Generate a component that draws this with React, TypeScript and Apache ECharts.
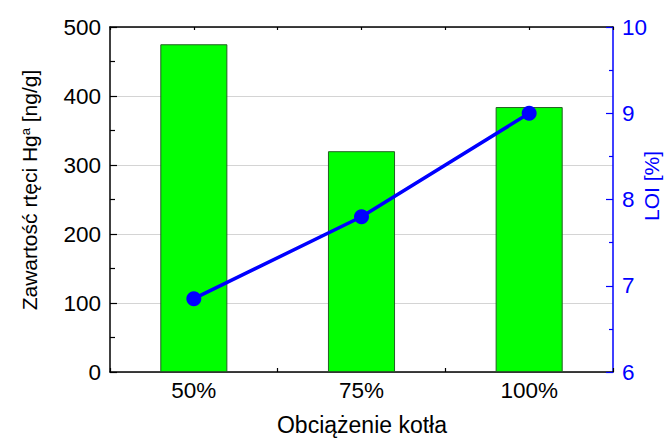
import React, { useEffect, useRef } from "react";
import * as echarts from "echarts";

const categories = ["50%", "75%", "100%"];
const mercuryValues = [475, 320, 384];
const loiValues = [6.85, 7.8, 9.0];

const FONT = "'Liberation Sans', Arial, sans-serif";

export default function App() {
  const ref = useRef<HTMLDivElement>(null);

  useEffect(() => {
    if (!ref.current) return;
    const chart = echarts.init(ref.current, null, { renderer: "svg" });
    const black = "#000000";
    const blue = "#0000ff";
    const option: any = {
      animation: false,
      backgroundColor: "#ffffff",
      textStyle: { fontFamily: FONT },
      grid: { left: 110, right: 52, top: 27, bottom: 67 },
      xAxis: [
        {
          type: "category",
          data: categories,
          position: "bottom",
          axisLine: { show: true, lineStyle: { color: black, width: 1.5 } },
          axisTick: { show: true, inside: true, alignWithLabel: true, length: 6, lineStyle: { color: black, width: 1.2 } },
          axisLabel: { show: true, fontSize: 22.5, color: black, margin: 7, fontFamily: FONT },
          splitLine: { show: false },
        },
        {
          type: "category",
          data: categories,
          position: "bottom",
          axisLine: { show: false },
          axisTick: { show: true, inside: true, alignWithLabel: false, length: 4, lineStyle: { color: black, width: 1.2 } },
          axisLabel: { show: false },
          splitLine: { show: false },
        },
        {
          type: "category",
          data: categories,
          position: "top",
          axisLine: { show: true, lineStyle: { color: black, width: 1.5 } },
          axisTick: { show: true, inside: true, alignWithLabel: true, length: 3, lineStyle: { color: black, width: 1.2 } },
          axisLabel: { show: false },
          splitLine: { show: false },
        },
        {
          type: "category",
          data: categories,
          position: "top",
          axisLine: { show: false },
          axisTick: { show: true, inside: true, alignWithLabel: false, length: 3, lineStyle: { color: black, width: 1.2 } },
          axisLabel: { show: false },
          splitLine: { show: false },
        },
      ],
      yAxis: [
        {
          type: "value",
          min: 0,
          max: 500,
          interval: 100,
          position: "left",
          axisLine: { show: true, lineStyle: { color: black, width: 1.5 } },
          axisTick: { show: true, inside: true, length: 7, lineStyle: { color: black, width: 1.2 } },
          minorTick: { show: true, splitNumber: 2, length: 5, lineStyle: { color: black, width: 1.2 } },
          axisLabel: { fontSize: 22.5, color: black, margin: 9, fontFamily: FONT },
          splitLine: { show: true, lineStyle: { color: "#d4d4d4", width: 1 } },
        },
        {
          type: "value",
          min: 6,
          max: 10,
          interval: 1,
          position: "right",
          axisLine: { show: true, lineStyle: { color: blue, width: 1.5 } },
          axisTick: { show: true, inside: true, length: 7, lineStyle: { color: blue, width: 1.2 } },
          minorTick: { show: true, splitNumber: 2, length: 4, lineStyle: { color: blue, width: 1.2 } },
          axisLabel: { fontSize: 22.5, color: blue, margin: 9, fontFamily: FONT },
          splitLine: { show: false },
        },
      ],
      series: [
        {
          type: "bar",
          xAxisIndex: 0,
          yAxisIndex: 0,
          data: mercuryValues,
          barWidth: "40%",
          itemStyle: { color: "#00ff00", borderColor: "#245f24", borderWidth: 1 },
          z: 2,
        },
        {
          type: "line",
          xAxisIndex: 0,
          yAxisIndex: 1,
          data: loiValues,
          symbol: "circle",
          symbolSize: 15,
          itemStyle: { color: blue },
          lineStyle: { color: blue, width: 3.5 },
          z: 5,
        },
      ],
      graphic: [
        {
          type: "text",
          x: 362,
          y: 425,
          style: {
            text: "Obciążenie kotła",
            fontSize: 23,
            fontFamily: FONT,
            fill: black,
            align: "center",
            verticalAlign: "middle",
          },
        },
        {
          type: "text",
          x: 29,
          y: 190,
          rotation: Math.PI / 2,
          style: {
            text: "{n|Zawartość rtęci Hg}{s|a}{n| [ng/g]}",
            align: "center",
            verticalAlign: "middle",
            fill: black,
            rich: {
              n: { fontSize: 21, fontFamily: FONT, fill: black },
              s: { fontSize: 13, fontFamily: FONT, fill: black, verticalAlign: "top" },
            },
          },
        },
        {
          type: "text",
          x: 651,
          y: 186,
          rotation: Math.PI / 2,
          style: {
            text: "LOI [%]",
            fontSize: 21,
            fontFamily: FONT,
            fill: blue,
            align: "center",
            verticalAlign: "middle",
          },
        },
      ],
    };
    chart.setOption(option);
    return () => chart.dispose();
  }, []);

  return (
    <div
      ref={ref}
      style={{ position: "fixed", left: 0, top: 0, width: 665, height: 439, background: "#fff" }}
    />
  );
}
